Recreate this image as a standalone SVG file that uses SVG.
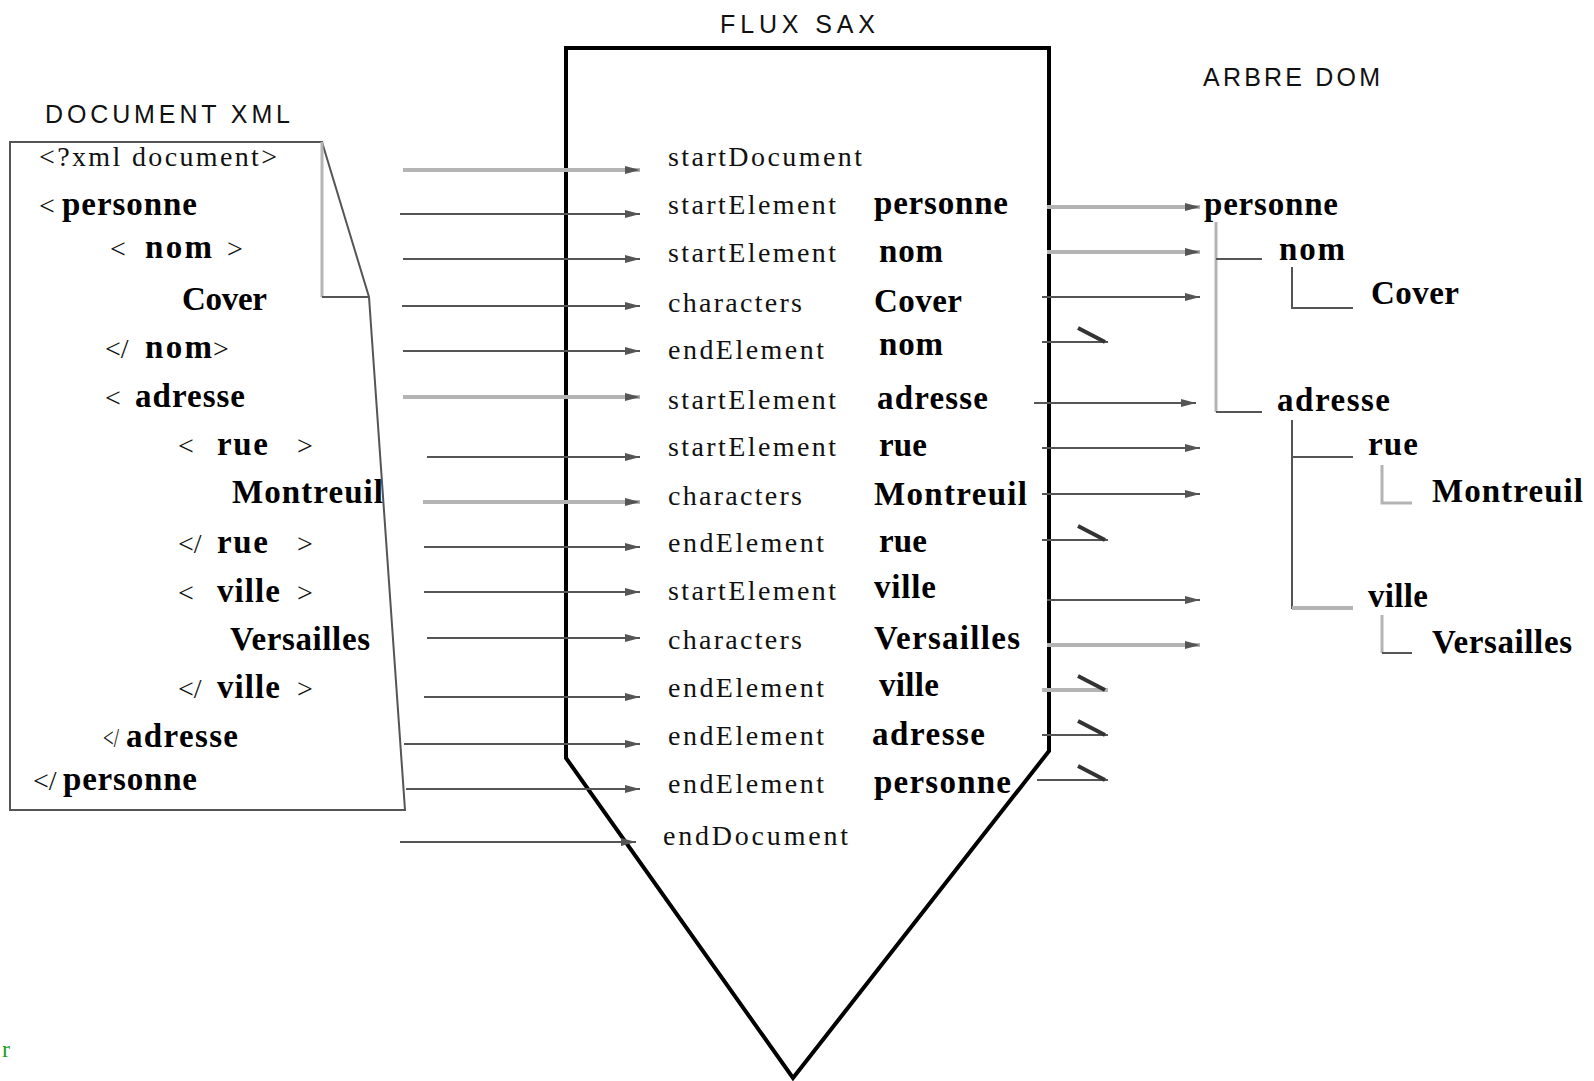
<svg xmlns="http://www.w3.org/2000/svg" width="1594" height="1081" viewBox="0 0 1594 1081">
<style>
  .hd{font-family:"Liberation Sans",Arial,sans-serif;font-size:25px;fill:#111}
  .r{font-family:"Liberation Serif","Times New Roman",serif;font-size:28px;fill:#111}
  .b{font-family:"Liberation Serif","Times New Roman",serif;font-size:33px;font-weight:bold;fill:#000}
  .dk{stroke:#555;stroke-width:2;fill:none}
  .lt{stroke:#b4b4b4;stroke-width:4;fill:none}
  .ar{marker-end:url(#ah)}
  .brk{stroke:#333;stroke-width:4;fill:none}
</style>
<defs>
  <marker id="ah" markerWidth="16" markerHeight="10" refX="15" refY="5" orient="auto" markerUnits="userSpaceOnUse">
    <path d="M0,1 L15,5 L0,9 Z" fill="#555"/>
  </marker>
</defs>
<rect width="1594" height="1081" fill="#fff"/>

<g id="headers">
  <text class="hd" x="45" y="123" textLength="245" lengthAdjust="spacing">DOCUMENT XML</text>
  <text class="hd" x="720" y="33" textLength="155" lengthAdjust="spacing">FLUX SAX</text>
  <text class="hd" x="1203" y="86" textLength="177" lengthAdjust="spacing">ARBRE DOM</text>
</g>

<g id="xml-document">
  <path d="M10,142 L322,142 L369,297 L405,810 L10,810 Z" stroke="#555" stroke-width="2" fill="none"/>
  <path d="M322,142 L322,297" class="lt" style="stroke-width:3"/>
  <path d="M322,297 L369,297" class="dk"/>
  <text class="r" x="39" y="166" textLength="238" lengthAdjust="spacing">&lt;?xml document&gt;</text>
  <text class="r" x="39" y="215">&lt;</text><text class="b" x="62" y="215" textLength="135" lengthAdjust="spacing">personne</text>
  <text class="r" x="110" y="258">&lt;</text><text class="b" x="145" y="258" textLength="67" lengthAdjust="spacing">nom</text><text class="r" x="227" y="258">&gt;</text>
  <text class="b" x="182" y="310" textLength="85" lengthAdjust="spacing">Cover</text>
  <text class="r" x="105" y="358">&lt;/</text><text class="b" x="145" y="358" textLength="67" lengthAdjust="spacing">nom</text><text class="r" x="213" y="358">&gt;</text>
  <text class="r" x="105" y="407">&lt;</text><text class="b" x="135" y="407" textLength="110" lengthAdjust="spacing">adresse</text>
  <text class="r" x="178" y="455">&lt;</text><text class="b" x="217" y="455" textLength="51" lengthAdjust="spacing">rue</text><text class="r" x="297" y="455">&gt;</text>
  <text class="b" x="232" y="503" textLength="151" lengthAdjust="spacing">Montreuil</text>
  <text class="r" x="178" y="553">&lt;/</text><text class="b" x="217" y="553" textLength="51" lengthAdjust="spacing">rue</text><text class="r" x="297" y="553">&gt;</text>
  <text class="r" x="178" y="602">&lt;</text><text class="b" x="217" y="602" textLength="63" lengthAdjust="spacing">ville</text><text class="r" x="297" y="602">&gt;</text>
  <text class="b" x="230" y="650" textLength="140" lengthAdjust="spacing">Versailles</text>
  <text class="r" x="178" y="698">&lt;/</text><text class="b" x="217" y="698" textLength="63" lengthAdjust="spacing">ville</text><text class="r" x="297" y="698">&gt;</text>
  <text class="r" x="103" y="747" textLength="16" lengthAdjust="spacingAndGlyphs">&lt;/</text><text class="b" x="126" y="747" textLength="112" lengthAdjust="spacing">adresse</text>
  <text class="r" x="33" y="790">&lt;/</text><text class="b" x="63" y="790" textLength="134" lengthAdjust="spacing">personne</text>
</g>

<g id="flux-sax">
  <path d="M566,48 L1049,48 L1049,751 L793,1078 L566,758 Z" stroke="#000" stroke-width="4" fill="none" stroke-linejoin="miter"/>
  <text class="r" x="668" y="166" textLength="194" lengthAdjust="spacing">startDocument</text>
  <text class="r" x="668" y="214" textLength="168" lengthAdjust="spacing">startElement</text>
  <text class="r" x="668" y="262" textLength="168" lengthAdjust="spacing">startElement</text>
  <text class="r" x="668" y="312" textLength="134" lengthAdjust="spacing">characters</text>
  <text class="r" x="668" y="359" textLength="156" lengthAdjust="spacing">endElement</text>
  <text class="r" x="668" y="409" textLength="168" lengthAdjust="spacing">startElement</text>
  <text class="r" x="668" y="456" textLength="168" lengthAdjust="spacing">startElement</text>
  <text class="r" x="668" y="505" textLength="134" lengthAdjust="spacing">characters</text>
  <text class="r" x="668" y="552" textLength="156" lengthAdjust="spacing">endElement</text>
  <text class="r" x="668" y="600" textLength="168" lengthAdjust="spacing">startElement</text>
  <text class="r" x="668" y="649" textLength="134" lengthAdjust="spacing">characters</text>
  <text class="r" x="668" y="697" textLength="156" lengthAdjust="spacing">endElement</text>
  <text class="r" x="668" y="745" textLength="156" lengthAdjust="spacing">endElement</text>
  <text class="r" x="668" y="793" textLength="156" lengthAdjust="spacing">endElement</text>
  <text class="r" x="663" y="845" textLength="185" lengthAdjust="spacing">endDocument</text>
  <text class="b" x="874" y="214" textLength="134" lengthAdjust="spacing">personne</text>
  <text class="b" x="879" y="262" textLength="64" lengthAdjust="spacing">nom</text>
  <text class="b" x="874" y="312" textLength="88" lengthAdjust="spacing">Cover</text>
  <text class="b" x="879" y="355" textLength="64" lengthAdjust="spacing">nom</text>
  <text class="b" x="877" y="409" textLength="111" lengthAdjust="spacing">adresse</text>
  <text class="b" x="879" y="456" textLength="48" lengthAdjust="spacing">rue</text>
  <text class="b" x="874" y="505" textLength="153" lengthAdjust="spacing">Montreuil</text>
  <text class="b" x="879" y="552" textLength="48" lengthAdjust="spacing">rue</text>
  <text class="b" x="874" y="598" textLength="62" lengthAdjust="spacing">ville</text>
  <text class="b" x="874" y="649" textLength="146" lengthAdjust="spacing">Versailles</text>
  <text class="b" x="879" y="696" textLength="60" lengthAdjust="spacing">ville</text>
  <text class="b" x="872" y="745" textLength="113" lengthAdjust="spacing">adresse</text>
  <text class="b" x="874" y="793" textLength="137" lengthAdjust="spacing">personne</text>
</g>

<g id="arbre-dom">
  <path d="M1216,222 L1216,412" class="lt" style="stroke-width:3"/>
  <path d="M1216,259 L1262,259 M1216,412 L1262,412" class="dk"/>
  <path d="M1292,267 L1292,308 L1353,308" class="dk"/>
  <path d="M1292,420 L1292,609 M1292,457 L1353,457" class="dk"/>
  <path d="M1292,608 L1353,608" class="lt"/>
  <path d="M1382,465 L1382,503 L1412,503" class="lt" style="stroke-width:3"/>
  <path d="M1382,615 L1382,653" class="lt" style="stroke-width:3"/>
  <path d="M1382,653 L1412,653" class="dk"/>
  <text class="b" x="1204" y="215" textLength="134" lengthAdjust="spacing">personne</text>
  <text class="b" x="1279" y="260" textLength="66" lengthAdjust="spacing">nom</text>
  <text class="b" x="1371" y="304" textLength="88" lengthAdjust="spacing">Cover</text>
  <text class="b" x="1277" y="411" textLength="113" lengthAdjust="spacing">adresse</text>
  <text class="b" x="1368" y="455" textLength="50" lengthAdjust="spacing">rue</text>
  <text class="b" x="1432" y="502" textLength="151" lengthAdjust="spacing">Montreuil</text>
  <text class="b" x="1368" y="607" textLength="60" lengthAdjust="spacing">ville</text>
  <text class="b" x="1432" y="653" textLength="140" lengthAdjust="spacing">Versailles</text>
</g>

<g id="connectors">
  <path class="lt ar" d="M403,170 L640,170"/>
  <path class="dk ar" d="M400,214 L640,214"/>
  <path class="dk ar" d="M403,259 L640,259"/>
  <path class="dk ar" d="M402,306 L640,306"/>
  <path class="dk ar" d="M403,351 L640,351"/>
  <path class="lt ar" d="M403,397 L640,397"/>
  <path class="dk ar" d="M427,457 L640,457"/>
  <path class="lt ar" d="M423,502 L640,502"/>
  <path class="dk ar" d="M424,547 L640,547"/>
  <path class="dk ar" d="M424,592 L640,592"/>
  <path class="dk ar" d="M427,638 L640,638"/>
  <path class="dk ar" d="M424,697 L640,697"/>
  <path class="dk ar" d="M404,744 L640,744"/>
  <path class="dk ar" d="M406,789 L640,789"/>
  <path class="dk ar" d="M400,842 L636,842"/>
  <path class="lt ar" d="M1047,207 L1200,207"/>
  <path class="lt ar" d="M1047,252 L1200,252"/>
  <path class="dk ar" d="M1042,297 L1200,297"/>
  <path class="dk ar" d="M1034,403 L1196,403"/>
  <path class="dk ar" d="M1042,448 L1200,448"/>
  <path class="dk ar" d="M1042,494 L1200,494"/>
  <path class="dk ar" d="M1047,600 L1200,600"/>
  <path class="lt ar" d="M1047,645 L1200,645"/>
  <path class="dk" d="M1042,342 L1108,342"/><path class="brk" d="M1078,328 L1105,342"/>
  <path class="dk" d="M1042,540 L1108,540"/><path class="brk" d="M1078,526 L1105,540"/>
  <path class="lt" d="M1042,690 L1108,690"/><path class="brk" d="M1078,676 L1105,690"/>
  <path class="dk" d="M1042,735 L1108,735"/><path class="brk" d="M1078,721 L1105,735"/>
  <path class="dk" d="M1037,780 L1108,780"/><path class="brk" d="M1078,766 L1105,780"/>
</g>

<text x="2" y="1057" font-family="Liberation Serif, serif" font-size="24" fill="#22a022">r</text>
</svg>
